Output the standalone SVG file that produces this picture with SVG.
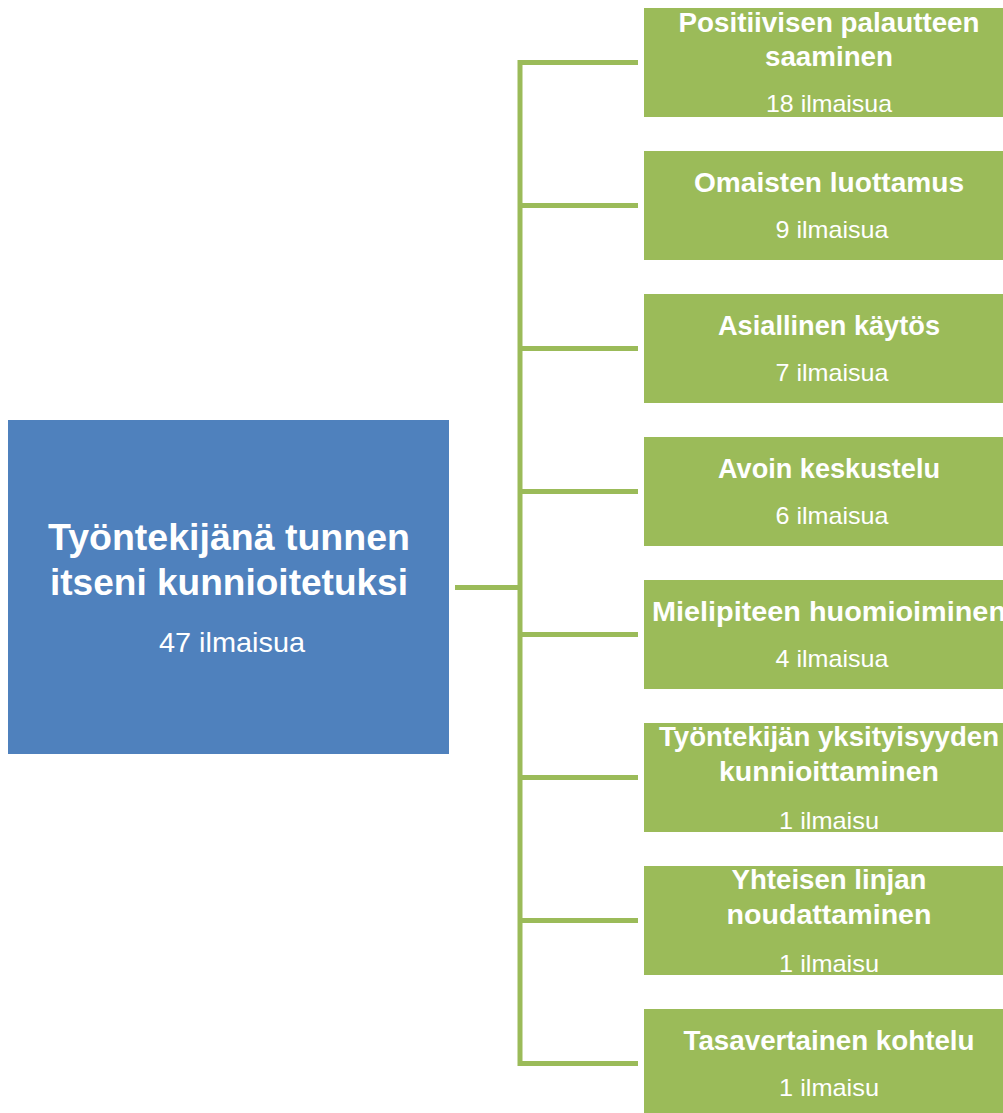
<svg xmlns="http://www.w3.org/2000/svg" width="1003" height="1113" viewBox="0 0 1003 1113">
  <style>
    .root { fill: #4F81BD; }
    .leaf { fill: #9BBB59; }
    .link { stroke: #9BBB59; stroke-width: 5; fill: none; stroke-linejoin: miter; }
    .t { font-family: "Liberation Sans", Arial, sans-serif; fill: #FFFFFF; text-anchor: middle; }
    .h { font-weight: bold; font-size: 27px; }
    .s { font-size: 24px; }
    .mh { font-weight: bold; font-size: 36px; }
    .ms { font-size: 28px; }
  </style>
  <rect width="1003" height="1113" fill="#FFFFFF"/>

  <!-- connectors: trunk from the root, bracket spine with end branches, inner branches -->
  <g id="connectors">
    <path class="link" d="M455 587.5H520"/>
    <path class="link" d="M638 62.5H520V1063.5H638"/>
    <path class="link" d="M520 205.5H638"/>
    <path class="link" d="M520 348.5H638"/>
    <path class="link" d="M520 491.5H638"/>
    <path class="link" d="M520 634.5H638"/>
    <path class="link" d="M520 777.5H638"/>
    <path class="link" d="M520 920.5H638"/>
  </g>

  <g id="root">
    <rect class="root" x="8" y="420" width="441" height="334"/>
    <text class="t mh" x="229" y="550" textLength="362" lengthAdjust="spacingAndGlyphs">Työntekijänä tunnen</text>
    <text class="t mh" x="229" y="595" textLength="358" lengthAdjust="spacingAndGlyphs">itseni kunnioitetuksi</text>
    <text class="t ms" x="232" y="652" textLength="146" lengthAdjust="spacingAndGlyphs">47 ilmaisua</text>
  </g>

  <g id="leaf1">
    <rect class="leaf" x="644" y="8" width="370" height="109"/>
    <text class="t h" x="829" y="32" textLength="301" lengthAdjust="spacingAndGlyphs">Positiivisen palautteen</text>
    <text class="t h" x="829" y="66" textLength="128" lengthAdjust="spacingAndGlyphs">saaminen</text>
    <text class="t s" x="829" y="112" textLength="126" lengthAdjust="spacingAndGlyphs">18 ilmaisua</text>
  </g>

  <g id="leaf2">
    <rect class="leaf" x="644" y="151" width="370" height="109"/>
    <text class="t h" x="829" y="192" textLength="270" lengthAdjust="spacingAndGlyphs">Omaisten luottamus</text>
    <text class="t s" x="832" y="238" textLength="113" lengthAdjust="spacingAndGlyphs">9 ilmaisua</text>
  </g>

  <g id="leaf3">
    <rect class="leaf" x="644" y="294" width="370" height="109"/>
    <text class="t h" x="829" y="335" textLength="222" lengthAdjust="spacingAndGlyphs">Asiallinen käytös</text>
    <text class="t s" x="832" y="381" textLength="113" lengthAdjust="spacingAndGlyphs">7 ilmaisua</text>
  </g>

  <g id="leaf4">
    <rect class="leaf" x="644" y="437" width="370" height="109"/>
    <text class="t h" x="829" y="478" textLength="222" lengthAdjust="spacingAndGlyphs">Avoin keskustelu</text>
    <text class="t s" x="832" y="524" textLength="113" lengthAdjust="spacingAndGlyphs">6 ilmaisua</text>
  </g>

  <g id="leaf5">
    <rect class="leaf" x="644" y="580" width="370" height="109"/>
    <text class="t h" x="829" y="621" textLength="354" lengthAdjust="spacingAndGlyphs">Mielipiteen huomioiminen</text>
    <text class="t s" x="832" y="667" textLength="113" lengthAdjust="spacingAndGlyphs">4 ilmaisua</text>
  </g>

  <g id="leaf6">
    <rect class="leaf" x="644" y="723" width="370" height="109"/>
    <text class="t h" x="829" y="746" textLength="340" lengthAdjust="spacingAndGlyphs">Työntekijän yksityisyyden</text>
    <text class="t h" x="829" y="781" textLength="220" lengthAdjust="spacingAndGlyphs">kunnioittaminen</text>
    <text class="t s" x="829" y="829" textLength="100" lengthAdjust="spacingAndGlyphs">1 ilmaisu</text>
  </g>

  <g id="leaf7">
    <rect class="leaf" x="644" y="866" width="370" height="109"/>
    <text class="t h" x="829" y="889" textLength="195" lengthAdjust="spacingAndGlyphs">Yhteisen linjan</text>
    <text class="t h" x="829" y="924" textLength="205" lengthAdjust="spacingAndGlyphs">noudattaminen</text>
    <text class="t s" x="829" y="972" textLength="100" lengthAdjust="spacingAndGlyphs">1 ilmaisu</text>
  </g>

  <g id="leaf8">
    <rect class="leaf" x="644" y="1009" width="370" height="109"/>
    <text class="t h" x="829" y="1050" textLength="291" lengthAdjust="spacingAndGlyphs">Tasavertainen kohtelu</text>
    <text class="t s" x="829" y="1096" textLength="100" lengthAdjust="spacingAndGlyphs">1 ilmaisu</text>
  </g>
</svg>
